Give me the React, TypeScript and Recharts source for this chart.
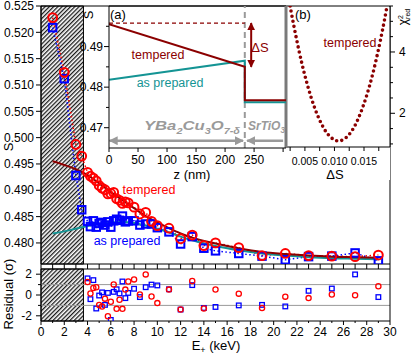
import {
  ComposedChart,
  LineChart,
  Line,
  Scatter,
  XAxis,
  YAxis,
  ReferenceArea,
  ReferenceLine,
} from 'recharts';

// ---- main panel: S parameter vs positron energy ----
const E_LOW = [1, 2, 3, 3.5];
const E_RES = [
  4, 4.25, 4.5, 4.75, 5, 5.25, 5.5, 5.75, 6, 6.25, 6.5, 6.75, 7, 7.25, 7.5, 8, 8.5, 9, 9.5, 10, 11, 12,
  13, 14, 15, 17, 19, 21, 23, 25, 27, 29,
];
const S_TEMPERED = [
  0.5228, 0.5124, 0.4987, 0.4965,
  0.4934, 0.4927, 0.4923, 0.4918, 0.4909, 0.4904, 0.4901, 0.4893, 0.4894, 0.4896, 0.4884, 0.4881,
  0.4875, 0.4878, 0.4876, 0.4868, 0.4855, 0.4858, 0.4841, 0.4833, 0.4828, 0.4808, 0.4815, 0.4795,
  0.48, 0.4791, 0.4776, 0.478, 0.4776, 0.4775, 0.4774, 0.4777,
];
const S_PREPARED = [
  0.5209, 0.5112, 0.4928, 0.4863,
  0.4841, 0.4831, 0.4842, 0.483, 0.4837, 0.4839, 0.4834, 0.484, 0.483, 0.4842, 0.4845, 0.4843,
  0.4851, 0.484, 0.4842, 0.4842, 0.4834, 0.4836, 0.4836, 0.4829, 0.4821, 0.4798, 0.4812, 0.479,
  0.4785, 0.478, 0.4775, 0.4768, 0.4774, 0.4775, 0.4781, 0.4766,
];
const RES_TEMPERED = [
  1.25, 0.15, 0.68, 0.75, -0.95, -1.1, -0.35, -2.05, -0.65, 1.02, -1.33, -0.45, -1.33, 0.52, 1.3,
  1.5, 0.05, 1.98, -0.15, -0.78, 0.52, -1.4, 1.35, -1.3, 0.53, 0.13, -1.25, -0.16, -0.3, 0.05,
  -0.03, 0.84,
];
const RES_PREPARED = [
  1.6, -0.4, 1.43, -1.3, -0.05, 0.25, -0.95, 0.2, -2.4, 0.3, 0.55, 0.15, 1.3, -0.3, 0.2, 0.6,
  -0.2, 0.75, 1.0, 0.92, 0.55, -1.4, 0.95, -1.25, -1.15, -1.0, -0.95, -1.1, 0.4, 0.62, 1.98, -0.2,
];
const E_FIT = [1, 2, 3, 4, 5, 6, 7, 8, 9, 10, 11, 12, 13, 15, 17, 19, 21, 23, 25, 27, 29];
const FIT_TEMPERED = [
  0.4955, 0.4948, 0.494, 0.4929, 0.4913, 0.4897, 0.4881, 0.4866, 0.4851, 0.4839, 0.4828, 0.4818,
  0.481, 0.4799, 0.479, 0.4783, 0.4779, 0.4776, 0.4774, 0.4773, 0.4772,
];
const FIT_PREPARED = [
  0.4818, 0.4822, 0.4827, 0.4832, 0.4836, 0.4839, 0.484, 0.4838, 0.4833, 0.4827, 0.482, 0.4812,
  0.4805, 0.4794, 0.4786, 0.478, 0.4776, 0.4773, 0.4771, 0.477, 0.4769,
];
const E_SURFACE_LIMIT = 3.65;

// ---- inset (a): S depth profile ----
const Z_PROFILE = [0, 234, 234, 305];
const PROFILE_TEMPERED = [0.4955, 0.485, 0.4768, 0.4768];
const PROFILE_PREPARED = [0.4818, 0.4865, 0.4763, 0.4763];
const Z_INTERFACE = 234;
const S_SURFACE = 0.4958;
const S_BULK_TEMPERED = 0.485;

// ---- inset (b): chi2 vs delta S ----
const DELTA_S = [
  0.0025, 0.003, 0.004, 0.005, 0.006, 0.007, 0.008, 0.009, 0.01, 0.0107, 0.0115, 0.0125, 0.0135,
  0.0145, 0.0155, 0.0165, 0.0175, 0.0183, 0.0189,
];
const CHI2 = [
  5.5, 4.98, 4.04, 3.23, 2.55, 2.0, 1.58, 1.29, 1.13, 1.1, 1.14, 1.31, 1.61, 2.05, 2.61, 3.3, 4.13,
  4.88, 5.5,
];

const S_TICKS = [0.48, 0.485, 0.49, 0.495, 0.5, 0.505, 0.51, 0.515, 0.52, 0.525];
const E_TICKS = Array.from({ length: 31 }, (_, i) => i);
const RES_TICKS = [-2, -1, 0, 1, 2];
const Z_TICKS = [0, 50, 100, 150, 200, 250, 300];
const SA_TICKS = [0.47, 0.475, 0.48, 0.485, 0.49, 0.495];
const DS_TICKS = [0.0025, 0.005, 0.0075, 0.01, 0.0125, 0.015, 0.0175];
const CHI_TICKS = [1, 1.5, 2, 2.5, 3, 3.5, 4, 4.5, 5, 5.5];

const FONT = '"Liberation Sans", Arial, sans-serif';
const RED = '#ff0000';
const BLUE = '#0000ff';
const DARK_RED = '#8b0000';
const TEAL = '#149494';
const GRAY = '#9a9a9a';

const tempered = [...E_LOW, ...E_RES].map((E, i) => ({ E, S: S_TEMPERED[i] }));
const prepared = [...E_LOW, ...E_RES].map((E, i) => ({ E, S: S_PREPARED[i] }));
const resTempered = E_RES.map((E, i) => ({ E, r: RES_TEMPERED[i] }));
const resPrepared = E_RES.map((E, i) => ({ E, r: RES_PREPARED[i] }));
const fitTempered = E_FIT.map((E, i) => ({ E, S: FIT_TEMPERED[i] }));
const fitPrepared = E_FIT.map((E, i) => ({ E, S: FIT_PREPARED[i] }));
const profTempered = Z_PROFILE.map((z, i) => ({ z, S: PROFILE_TEMPERED[i] }));
const profPrepared = Z_PROFILE.map((z, i) => ({ z, S: PROFILE_PREPARED[i] }));
const chiCurve = DELTA_S.map((d, i) => ({ d, chi: CHI2[i] }));

type TickOpts = {
  side: 'left' | 'right' | 'bottom';
  isMajor: (v: number) => boolean;
  fmt?: (v: number) => string | null;
  majorLen: number;
  minorLen?: number;
  off?: number;
  size?: number;
};

const tickMaker = (o: TickOpts) => (p: any) => {
  const v = p.payload.value;
  const maj = o.isMajor(v);
  const len = maj ? o.majorLen : o.minorLen ?? 0;
  const label = maj && o.fmt ? o.fmt(v) : null;
  const off = o.off ?? 0;
  const fs = o.size ?? 12;
  const txt = { fontSize: fs, fontFamily: FONT, fill: '#000' };
  if (o.side === 'bottom') {
    return (
      <g>
        <line x1={p.x} x2={p.x} y1={p.y} y2={p.y + len} stroke="#000" />
        {label && (
          <text x={p.x} y={p.y + off} textAnchor="middle" {...txt}>
            {label}
          </text>
        )}
      </g>
    );
  }
  const sign = o.side === 'left' ? -1 : 1;
  return (
    <g>
      <line x1={p.x} x2={p.x + sign * len} y1={p.y} y2={p.y} stroke="#000" />
      {label && (
        <text x={p.x + sign * off} y={p.y} dy="0.35em" textAnchor={sign < 0 ? 'end' : 'start'} {...txt}>
          {label}
        </text>
      )}
    </g>
  );
};

const near = (v: number, step: number) => Math.abs(v / step - Math.round(v / step)) < 1e-6;

const redCircle = (r: number, w: number) => (p: any) => (
  <circle cx={p.cx} cy={p.cy} r={r} fill="none" stroke={RED} strokeWidth={w} />
);
const blueSquare = (s: number, w: number) => (p: any) => (
  <rect x={p.cx - s / 2} y={p.cy - s / 2} width={s} height={s} fill="none" stroke={BLUE} strokeWidth={w} />
);

const Hatch = ({ id }: { id: string }) => (
  <defs>
    <pattern id={id} patternUnits="userSpaceOnUse" width="3" height="3" patternTransform="rotate(45)">
      <rect x="0" y="0" width="1.3" height="3" fill="#1a1a1a" />
    </pattern>
  </defs>
);

const Txt = ({
  x,
  y,
  children,
  size = 13,
  color = '#000',
  anchor = 'middle',
  rotate = 0,
  sx = 1,
  style,
}: any) => (
  <div
    style={{
      position: 'absolute',
      left: x,
      top: y,
      fontSize: size,
      color,
      lineHeight: 1,
      whiteSpace: 'nowrap',
      transformOrigin: anchor === 'start' ? 'left center' : 'center',
      transform: `translate(${anchor === 'middle' ? '-50%' : anchor === 'end' ? '-100%' : '0'}, -50%) rotate(${rotate}deg) scaleX(${sx})`,
      ...style,
    }}
  >
    {children}
  </div>
);

const axisLine = { stroke: '#000' };
const subStyle = { fontSize: 8.5 };
const lowSub = { fontSize: 9, position: 'relative' as const, top: 3, verticalAlign: 'baseline' };

export default function App() {
  return (
    <div
      style={{
        position: 'absolute',
        left: 0,
        top: 0,
        width: 411,
        height: 353,
        background: '#fff',
        fontFamily: FONT,
        overflow: 'hidden',
      }}
    >
      {/* main S(E) panel */}
      <div style={{ position: 'absolute', left: 0, top: 0 }}>
        <ComposedChart width={411} height={270} margin={{ top: 6, right: 21, bottom: 0, left: 0 }}>
          <Hatch id="hatchMain" />
          <XAxis
            type="number"
            dataKey="E"
            domain={[0, 30]}
            ticks={E_TICKS}
            interval={0}
            height={6}
            tickSize={0}
            tickMargin={0}
            tickLine={false}
            axisLine={axisLine}
            allowDataOverflow
            tick={tickMaker({ side: 'bottom', isMajor: () => true, majorLen: 5 })}
          />
          <YAxis
            type="number"
            domain={[0.476, 0.525]}
            ticks={S_TICKS}
            interval={0}
            width={41}
            tickSize={0}
            tickMargin={0}
            tickLine={false}
            axisLine={axisLine}
            allowDataOverflow
            tick={tickMaker({ side: 'left', isMajor: () => true, fmt: v => v.toFixed(3), majorLen: 5, off: 7 })}
          />
          <ReferenceArea
            x1={0}
            x2={E_SURFACE_LIMIT}
            y1={0.476}
            y2={0.525}
            fill="url(#hatchMain)"
            fillOpacity={1}
            stroke="#000"
          />
          <ReferenceLine y={0.525} stroke="#000" />
          <ReferenceLine x={30} stroke="#000" />
          <Line data={tempered} dataKey="S" type="linear" stroke={RED} strokeWidth={1.5} strokeDasharray="1.5 2.5" dot={false} isAnimationActive={false} />
          <Line data={prepared} dataKey="S" type="linear" stroke={BLUE} strokeWidth={1.5} strokeDasharray="1.5 2.5" dot={false} isAnimationActive={false} />
          <Scatter data={prepared} dataKey="S" shape={blueSquare(7.5, 2)} isAnimationActive={false} />
          <Scatter data={tempered} dataKey="S" shape={redCircle(4.4, 2)} isAnimationActive={false} />
          <Line data={fitPrepared} dataKey="S" type="monotone" stroke={TEAL} strokeWidth={2} dot={false} isAnimationActive={false} />
          <Line data={fitTempered} dataKey="S" type="monotone" stroke={DARK_RED} strokeWidth={2} dot={false} isAnimationActive={false} />
        </ComposedChart>
      </div>

      {/* residual panel */}
      <div style={{ position: 'absolute', left: 0, top: 258 }}>
        <ComposedChart width={411} height={95} margin={{ top: 11, right: 21, bottom: 0, left: 0 }}>
          <Hatch id="hatchRes" />
          <XAxis
            type="number"
            dataKey="E"
            domain={[0, 30]}
            ticks={E_TICKS}
            interval={0}
            height={32}
            tickSize={0}
            tickMargin={0}
            tickLine={false}
            axisLine={axisLine}
            allowDataOverflow
            tick={tickMaker({
              side: 'bottom',
              isMajor: v => v % 2 === 0,
              fmt: v => String(v),
              majorLen: 4,
              minorLen: 2,
              off: 14.5,
            })}
          />
          <YAxis
            type="number"
            domain={[-2.5, 2.5]}
            ticks={RES_TICKS}
            interval={0}
            width={41}
            tickSize={0}
            tickMargin={0}
            tickLine={false}
            axisLine={axisLine}
            allowDataOverflow
            tick={tickMaker({
              side: 'left',
              isMajor: v => v % 2 === 0,
              fmt: v => String(v),
              majorLen: 5,
              minorLen: 3,
              off: 9,
            })}
          />
          <ReferenceArea
            x1={0}
            x2={E_SURFACE_LIMIT}
            y1={-2.5}
            y2={2.5}
            fill="url(#hatchRes)"
            fillOpacity={1}
            stroke="#000"
          />
          <ReferenceLine y={1} stroke="#9a9a9a" />
          <ReferenceLine y={-1} stroke="#9a9a9a" />
          <ReferenceLine y={2.5} stroke="#000" />
          <ReferenceLine x={30} stroke="#000" />
          <Scatter data={resPrepared} dataKey="r" shape={blueSquare(4.6, 1.3)} isAnimationActive={false} />
          <Scatter data={resTempered} dataKey="r" shape={redCircle(2.6, 1.3)} isAnimationActive={false} />
        </ComposedChart>
      </div>

      {/* white backgrounds for the insets */}
      <div style={{ position: 'absolute', left: 84, top: 7, width: 26, height: 143, background: '#fff' }} />
      <div style={{ position: 'absolute', left: 109, top: 7, width: 281, height: 173, background: '#fff' }} />

      {/* inset (b): chi2 */}
      <div style={{ position: 'absolute', left: 286, top: 0 }}>
        <LineChart width={125} height={180} data={chiCurve} margin={{ top: 6, right: 0, bottom: 0, left: 0 }}>
          <XAxis
            type="number"
            dataKey="d"
            domain={[0.0018, 0.0194]}
            ticks={DS_TICKS}
            interval={0}
            height={33}
            tickSize={0}
            tickMargin={0}
            tickLine={false}
            axisLine={axisLine}
            allowDataOverflow
            tick={tickMaker({
              side: 'bottom',
              isMajor: () => true,
              fmt: v => (near(v, 0.005) ? v.toFixed(3) : null),
              majorLen: 4,
              off: 18,
              size: 10.5,
            })}
          />
          <YAxis
            orientation="right"
            type="number"
            domain={[0.9, 5.5]}
            ticks={CHI_TICKS}
            interval={0}
            width={21}
            tickSize={0}
            tickMargin={0}
            tickLine={false}
            axisLine={axisLine}
            allowDataOverflow
            tick={tickMaker({
              side: 'right',
              isMajor: v => v === 2 || v === 4,
              fmt: v => String(v),
              majorLen: 5,
              minorLen: 3,
              off: 9,
            })}
          />
          <Line
            dataKey="chi"
            type="natural"
            stroke={DARK_RED}
            strokeWidth={3.6}
            strokeDasharray="0 5.2"
            strokeLinecap="round"
            dot={false}
            isAnimationActive={false}
          />
        </LineChart>
      </div>

      {/* inset (a): depth profile */}
      <div style={{ position: 'absolute', left: 75, top: 0 }}>
        <ComposedChart width={213} height={180} margin={{ top: 6, right: 2, bottom: 0, left: 0 }}>
          <defs>
            <marker id="arrDR" viewBox="0 0 10 10" refX="9" refY="5" markerUnits="userSpaceOnUse" markerWidth="8" markerHeight="8" orient="auto-start-reverse">
              <path d="M0,0 L10,5 L0,10 z" fill={DARK_RED} />
            </marker>
            <marker id="arrGray" viewBox="0 0 10 10" refX="9" refY="5" markerUnits="userSpaceOnUse" markerWidth="9" markerHeight="9" orient="auto-start-reverse">
              <path d="M0,0 L10,5 L0,10 z" fill={GRAY} />
            </marker>
          </defs>
          <XAxis
            type="number"
            dataKey="z"
            domain={[0, 305]}
            ticks={Z_TICKS}
            interval={0}
            height={32}
            tickSize={0}
            tickMargin={0}
            tickLine={false}
            axisLine={axisLine}
            allowDataOverflow
            tick={tickMaker({
              side: 'bottom',
              isMajor: () => true,
              fmt: v => (v <= 250 ? String(v) : null),
              majorLen: 4,
              off: 16,
            })}
          />
          <YAxis
            type="number"
            domain={[0.465, 0.5]}
            ticks={SA_TICKS}
            interval={0}
            width={34}
            tickSize={0}
            tickMargin={0}
            tickLine={false}
            axisLine={axisLine}
            allowDataOverflow
            tick={tickMaker({
              side: 'left',
              isMajor: v => near(v, 0.01),
              fmt: v => v.toFixed(2),
              majorLen: 5,
              minorLen: 3,
              off: 6,
            })}
          />
          <ReferenceLine y={0.5} stroke="#000" />
          <ReferenceLine x={Z_INTERFACE} stroke={GRAY} strokeWidth={2} strokeDasharray="6 4" />
          <ReferenceLine x={305} stroke="#7a7a7a" strokeWidth={3} />
          <Line
            data={[{ z: 0, S: S_SURFACE }, { z: Z_INTERFACE, S: S_SURFACE }]}
            dataKey="S"
            type="linear"
            stroke={DARK_RED}
            strokeWidth={1.3}
            strokeDasharray="4 3"
            dot={false}
            isAnimationActive={false}
          />
          <Line data={profPrepared} dataKey="S" type="linear" stroke={TEAL} strokeWidth={2} dot={false} isAnimationActive={false} />
          <Line data={profTempered} dataKey="S" type="linear" stroke={DARK_RED} strokeWidth={2} dot={false} isAnimationActive={false} />
          <Line
            data={[{ z: 245, S: S_SURFACE }, { z: 245, S: S_BULK_TEMPERED }]}
            dataKey="S"
            type="linear"
            stroke={DARK_RED}
            strokeWidth={2}
            dot={false}
            markerStart="url(#arrDR)"
            markerEnd="url(#arrDR)"
            isAnimationActive={false}
          />
          <Line
            data={[{ z: 1, S: 0.4668 }, { z: 231, S: 0.4668 }]}
            dataKey="S"
            type="linear"
            stroke={GRAY}
            strokeWidth={2.5}
            dot={false}
            markerStart="url(#arrGray)"
            markerEnd="url(#arrGray)"
            isAnimationActive={false}
          />
          <Line
            data={[{ z: 238, S: 0.4668 }, { z: 300, S: 0.4668 }]}
            dataKey="S"
            type="linear"
            stroke={GRAY}
            strokeWidth={2.5}
            dot={false}
            markerStart="url(#arrGray)"
            isAnimationActive={false}
          />
        </ComposedChart>
      </div>

      {/* texts */}
      <Txt x={8} y={147} rotate={-90}>S</Txt>
      <Txt x={8} y={294} rotate={-90}>Residual (σ)</Txt>
      <Txt x={216} y={345}>
        E<span style={lowSub}>+</span> (keV)
      </Txt>
      <Txt x={149} y={190} size={12.5} color={RED}>tempered</Txt>
      <Txt x={127} y={241} size={12.5} color={BLUE}>as prepared</Txt>

      <Txt x={88} y={15} rotate={-90}>S</Txt>
      <Txt x={110} y={14} anchor="start">(a)</Txt>
      <Txt x={158} y={55} size={12.5} color={DARK_RED}>tempered</Txt>
      <Txt x={170} y={83} size={12.5} color={TEAL}>as prepared</Txt>
      <Txt x={260} y={47} color={DARK_RED}>ΔS</Txt>
      <Txt x={144} y={127} anchor="start" size={13} sx={1.28} color={GRAY} style={{ fontWeight: 'bold', fontStyle: 'italic' }}>
        YBa<sub style={subStyle}>2</sub>Cu<sub style={subStyle}>3</sub>O<sub style={subStyle}>7-δ</sub>
      </Txt>
      <Txt x={248} y={127} anchor="start" size={12} color={GRAY} style={{ fontWeight: 'bold', fontStyle: 'italic' }}>
        SrTiO<sub style={subStyle}>3</sub>
      </Txt>
      <Txt x={192} y={174}>z (nm)</Txt>

      <Txt x={295} y={14} anchor="start">(b)</Txt>
      <Txt x={350} y={43} size={12.5} color={DARK_RED}>tempered</Txt>
      <Txt x={335} y={174}>ΔS</Txt>
      <Txt x={404} y={17} size={12} rotate={-90}>
        χ
        <span style={{ display: 'inline-flex', flexDirection: 'column', fontSize: 7, lineHeight: '7px', verticalAlign: 'middle' }}>
          <span>2</span>
          <span>red</span>
        </span>
      </Txt>
    </div>
  );
}
